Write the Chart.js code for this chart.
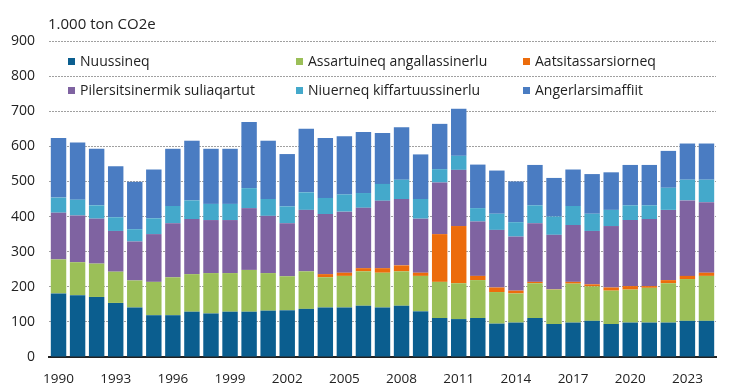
<!DOCTYPE html>
<html>
<head>
<meta charset="utf-8">
<script src="https://cdn.jsdelivr.net/npm/chart.js@4"></script>
<style>
    body { margin: 0; background: #fff; }
    #wrap { position: relative; width: 734px; height: 390px; font-family: "Open Sans", sans-serif; }
    #unit { position: absolute; left: 48px; top: 14px; font-size: 15px; line-height: 18px; color: #222; }
    .legend-item { position: absolute; font-size: 14px; color: #222; white-space: nowrap; line-height: 16px; }
    .legend-item span { display: inline-block; width: 7px; height: 7px; margin-right: 5px; vertical-align: 1px; }
</style>
</head>
<body>
<div id="wrap">
    <canvas id="chart" width="734" height="390"></canvas>
    <div id="unit">1.000 ton CO2e</div>
</div>
<script>
const years = ["1990", "1991", "1992", "1993", "1994", "1995", "1996", "1997", "1998", "1999", "2000", "2001",
    "2002", "2003", "2004", "2005", "2006", "2007", "2008", "2009", "2010", "2011", "2012", "2013",
    "2014", "2015", "2016", "2017", "2018", "2019", "2020", "2021", "2022", "2023", "2024"];

// 1.000 ton CO2e
const nuussineq = [181, 176, 171, 154, 141, 119, 119, 129, 124, 129, 129, 132,
    133, 137, 141, 141, 146, 141, 146, 130, 111, 108, 111, 95,
    98, 111, 94, 98, 103, 94, 98, 98, 98, 103, 103];
const assartuineq = [97, 94, 95, 89, 77, 95, 108, 107, 115, 110, 119, 107,
    97, 107, 86, 90, 98, 99, 98, 101, 103, 102, 108, 90,
    83, 99, 98, 111, 98, 95, 94, 99, 112, 119, 128];
const aatsitassarsiorneq = [0, 0, 0, 0, 0, 0, 0, 0, 0, 0, 0, 0,
    0, 0, 9, 9, 9, 13, 17, 9, 136, 163, 12, 13,
    8, 4, 1, 5, 6, 9, 10, 5, 9, 9, 9];
const pilersitsinermik = [133, 133, 128, 116, 111, 136, 154, 157, 151, 151, 176, 163,
    151, 175, 171, 174, 172, 192, 189, 154, 147, 160, 155, 164,
    154, 167, 155, 162, 152, 175, 188, 191, 200, 215, 201];
const niuerneq = [43, 45, 38, 39, 35, 45, 49, 53, 46, 46, 57, 48,
    48, 50, 46, 49, 42, 48, 55, 56, 38, 40, 38, 46,
    41, 51, 52, 54, 49, 46, 42, 39, 63, 59, 64];
const angerlarsimaffiit = [170, 163, 161, 145, 135, 139, 163, 170, 157, 157, 188, 166,
    149, 181, 171, 166, 174, 145, 149, 127, 129, 134, 124, 123,
    116, 115, 110, 104, 113, 107, 115, 115, 105, 103, 103];

const yTicks = [0, 100, 200, 300, 400, 500, 600, 700, 800, 900];

const series = [
    { label: "Nuussineq", data: nuussineq, color: "#0b5e8f" },
    { label: "Assartuineq angallassinerlu", data: assartuineq, color: "#9bbf58" },
    { label: "Aatsitassarsiorneq", data: aatsitassarsiorneq, color: "#ec6c0c" },
    { label: "Pilersitsinermik suliaqartut", data: pilersitsinermik, color: "#7f63a1" },
    { label: "Niuerneq kiffartuussinerlu", data: niuerneq, color: "#44a9cb" },
    { label: "Angerlarsimaffiit", data: angerlarsimaffiit, color: "#4a7cc2" },
];

// legend: two rows, three columns, sitting inside the plot area
const legendPos = [[68, 53], [296, 53], [523, 53], [68, 82], [296, 82], [523, 82]];
series.forEach((s, i) => {
    let item = document.createElement("div");
    item.className = "legend-item";
    item.style.left = legendPos[i][0] + "px";
    item.style.top = legendPos[i][1] + "px";
    let box = document.createElement("span");
    box.style.background = s.color;
    item.appendChild(box);
    item.appendChild(document.createTextNode(s.label));
    document.getElementById("wrap").appendChild(item);
});

const ctx = document.getElementById("chart").getContext("2d");
new Chart(ctx, {
    type: "bar",
    data: {
        labels: years,
        datasets: series.map(s => ({
            label: s.label,
            data: s.data,
            backgroundColor: s.color,
            borderWidth: 0,
            categoryPercentage: 1,
            barPercentage: 0.81,
        })),
    },
    options: {
        responsive: false,
        animation: false,
        layout: { padding: { top: 41, right: 18, left: 0, bottom: 0 } },
        plugins: {
            legend: { display: false },
            tooltip: { enabled: false },
        },
        scales: {
            x: {
                stacked: true,
                grid: { display: false, drawTicks: false },
                border: { color: "#222", width: 2 },
                ticks: {
                    autoSkip: false,
                    maxRotation: 0,
                    padding: 14,
                    color: "#222",
                    font: { family: "Open Sans", size: 13.5 },
                    callback: function (value, index) {
                        return index % 3 === 0 ? this.getLabelForValue(value) : "";
                    },
                },
                afterFit: (scale) => { scale.height = 33; },
            },
            y: {
                stacked: true,
                min: 0,
                max: 900,
                afterBuildTicks: (scale) => { scale.ticks = yTicks.map(v => ({ value: v })); },
                grid: { color: "#a0a0a0", drawTicks: false, lineWidth: 1 },
                border: { display: false, dash: [2, 1] },
                ticks: {
                    padding: 14,
                    color: "#222",
                    font: { family: "Open Sans", size: 14 },
                },
                afterFit: (scale) => { scale.width = 49; },
            },
        },
    },
});
</script>
</body>
</html>
